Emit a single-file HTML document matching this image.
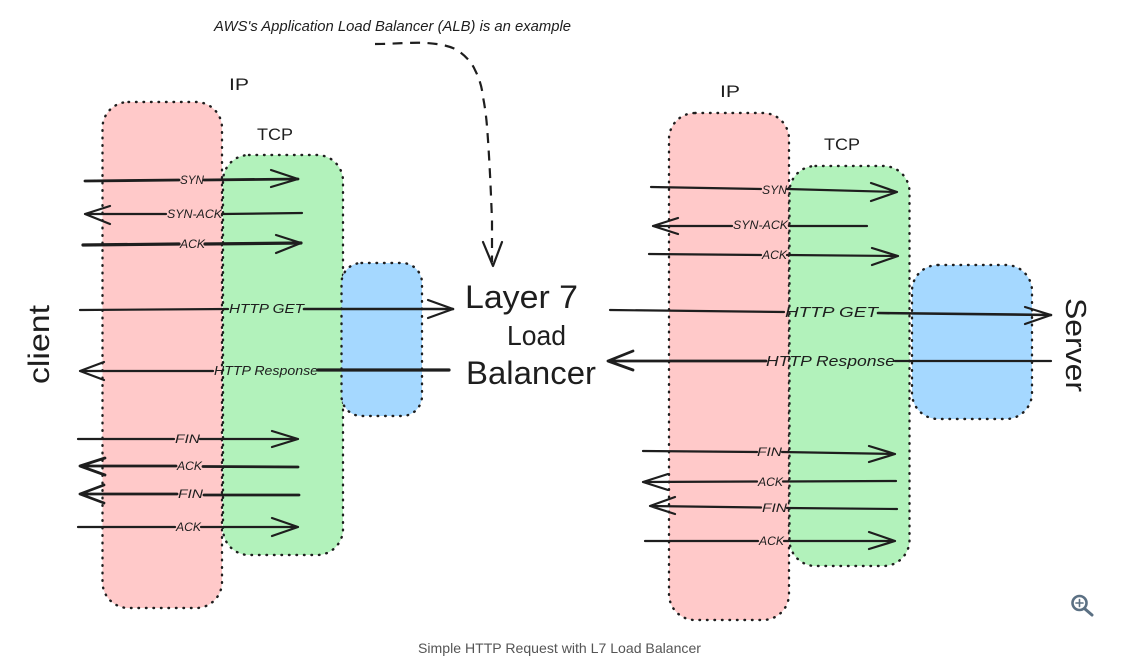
<!DOCTYPE html>
<html><head><meta charset="utf-8"><style>
html,body{margin:0;padding:0;background:#fff;width:1129px;height:665px;overflow:hidden}
svg{display:block}
.s{font:italic 12px "Liberation Sans",sans-serif;fill:#1e1e1e}
.m{font:17px "Liberation Sans",sans-serif;fill:#1e1e1e}
.l{font:32px "Liberation Sans",sans-serif;fill:#1e1e1e}
.b{stroke:#1e1e1e;stroke-width:2.4;stroke-dasharray:.6 6.9;stroke-linecap:round}
.a path{fill:none;stroke:#1e1e1e;stroke-width:2.2;stroke-linecap:round;stroke-linejoin:round}
</style></head><body>
<svg width="1129" height="665" viewBox="0 0 1129 665" xmlns="http://www.w3.org/2000/svg">
<rect class="b" x="102.500" y="102" width="119.500" height="506" rx="26" fill="#ffc9c9"/>
<rect class="b" x="223" y="155" width="120" height="400" rx="26" fill="#b2f2bb"/>
<rect class="b" x="341.500" y="263" width="80.500" height="153" rx="20" fill="#a5d8ff"/>
<rect class="b" x="669" y="113" width="120" height="507" rx="26" fill="#ffc9c9"/>
<rect class="b" x="789.500" y="166" width="120" height="400" rx="26" fill="#b2f2bb"/>
<rect class="b" x="912" y="265" width="120" height="154" rx="26" fill="#a5d8ff"/>

<g class="a">
<path style="stroke-width:2.8" d="M85 181L179 180M204 180L298 179"/><path d="M271 170L298 179L271 187"/>
<path d="M302 213L222 214M166 214L85 214M110 206L85 214L110 224"/>
<path style="stroke-width:3.2" d="M83 245L179 244M205 244L301 243"/><path d="M276 235L301 243L276 253"/>
<path d="M80 310L228 309"/><path style="stroke-width:2.6" d="M304 309L453 309"/><path d="M428 300L453 309L428 318"/>
<path style="stroke-width:3.2" d="M449 370L318 370"/><path d="M213 371L80 371M104 362L80 371L104 380"/>
<path d="M78 439L174 439M200 439L298 439M272 431L298 439L272 447"/>
<path style="stroke-width:2.8" d="M298 467L203 466.500M176 466L80 466M105 458L80 466L105 475"/>
<path style="stroke-width:2.8" d="M299 495L204 495M177 494L80 494M104 485L80 494L104 503"/>
<path d="M78 527L175 527M201 527L298 527M272 518L298 527L272 536"/>

<path d="M651 187L761 189M787 189L897 192M871 183L897 192L871 201"/>
<path d="M867 226L789 226M732 226L653 226M678 218L653 226L678 234"/>
<path d="M649 254L761 255M787 255L898 256M872 248L898 256L872 265"/>
<path d="M610 310L784 312"/><path style="stroke-width:2.6" d="M878 313L1051 315"/><path d="M1025 307L1051 315L1025 324"/>
<path d="M1051 361L895 361"/><path style="stroke-width:2.8" d="M766 361L608 361M633 351L608 361L633 370"/>
<path d="M643 451L757 452M782 452L895 454M869 446L895 454L869 462"/>
<path d="M896 481L783 481.500M757 481.500L643 482M668 474L643 482L668 490"/>
<path d="M897 509L787 508M761 507.500L650 506M675 497L650 506L675 514"/>
<path d="M645 541L758 541M784 541L895 541M869 532L895 541L869 549"/>
</g>

<path d="M375 44C395 44 412 42 427 43C440 44 450 46 457 50C466 56 472 63 475 70C480 80 482 88 483 97C486 112 487 125 488 140C490 170 491 195 492 220L492 262" fill="none" stroke="#1e1e1e" stroke-width="2.2" stroke-dasharray="10 7.500"/>
<path d="M483 242L493 266L502 242" fill="none" stroke="#1e1e1e" stroke-width="2.2" stroke-linecap="round" stroke-linejoin="round"/>

<text class="m" x="214" y="31" textLength="357" lengthAdjust="spacingAndGlyphs" style="font-size:15px;font-style:italic">AWS's Application Load Balancer (ALB) is an example</text>
<text class="m" x="229" y="90" textLength="20" lengthAdjust="spacingAndGlyphs">IP</text>
<text class="m" x="257" y="140" textLength="36" lengthAdjust="spacingAndGlyphs">TCP</text>
<text class="m" x="720" y="97" textLength="20" lengthAdjust="spacingAndGlyphs">IP</text>
<text class="m" x="824" y="150" textLength="36" lengthAdjust="spacingAndGlyphs">TCP</text>

<text class="s" x="180" y="184" textLength="24" lengthAdjust="spacingAndGlyphs">SYN</text>
<text class="s" x="167" y="218" textLength="55" lengthAdjust="spacingAndGlyphs">SYN-ACK</text>
<text class="s" x="180" y="248" textLength="25" lengthAdjust="spacingAndGlyphs">ACK</text>
<text class="s" x="229" y="313" textLength="75" lengthAdjust="spacingAndGlyphs" style="font-size:13px">HTTP GET</text>
<text class="s" x="214" y="375" textLength="104" lengthAdjust="spacingAndGlyphs" style="font-size:13px">HTTP Response</text>
<text class="s" x="175" y="443" textLength="25" lengthAdjust="spacingAndGlyphs">FIN</text>
<text class="s" x="177" y="470" textLength="25" lengthAdjust="spacingAndGlyphs">ACK</text>
<text class="s" x="178" y="498" textLength="25" lengthAdjust="spacingAndGlyphs">FIN</text>
<text class="s" x="176" y="531" textLength="25" lengthAdjust="spacingAndGlyphs">ACK</text>

<text class="s" x="762" y="194" textLength="25" lengthAdjust="spacingAndGlyphs">SYN</text>
<text class="s" x="733" y="229" textLength="55" lengthAdjust="spacingAndGlyphs">SYN-ACK</text>
<text class="s" x="762" y="259" textLength="25" lengthAdjust="spacingAndGlyphs">ACK</text>
<text class="s" x="785" y="317" textLength="93" lengthAdjust="spacingAndGlyphs" style="font-size:15px">HTTP GET</text>
<text class="s" x="766" y="366" textLength="129" lengthAdjust="spacingAndGlyphs" style="font-size:15px">HTTP Response</text>
<text class="s" x="757" y="456" textLength="25" lengthAdjust="spacingAndGlyphs">FIN</text>
<text class="s" x="758" y="486" textLength="25" lengthAdjust="spacingAndGlyphs">ACK</text>
<text class="s" x="762" y="512" textLength="25" lengthAdjust="spacingAndGlyphs">FIN</text>
<text class="s" x="759" y="545" textLength="25" lengthAdjust="spacingAndGlyphs">ACK</text>

<text class="l" x="465" y="308" textLength="113" lengthAdjust="spacingAndGlyphs">Layer 7</text>
<text class="l" x="507" y="345" textLength="59" lengthAdjust="spacingAndGlyphs" style="font-size:28px">Load</text>
<text class="l" x="466" y="384" textLength="130" lengthAdjust="spacingAndGlyphs">Balancer</text>

<text class="l" transform="translate(49 384) rotate(-90)" textLength="79" lengthAdjust="spacingAndGlyphs" style="font-size:30px">client</text>
<text class="l" transform="translate(1066 298) rotate(90)" textLength="94" lengthAdjust="spacingAndGlyphs" style="font-size:29px">Server</text>

<text x="418" y="653" textLength="283" lengthAdjust="spacingAndGlyphs" style="font:14px 'Liberation Sans',sans-serif;fill:#555">Simple HTTP Request with L7 Load Balancer</text>

<g fill="none" stroke="#5b7083" stroke-linecap="round">
<circle cx="1079.500" cy="603" r="7" stroke-width="2.600"/>
<path d="M1085 609L1092 615" stroke-width="3"/>
<path d="M1076 603H1083M1079.500 599.500V606.500" stroke-width="1.600"/>
</g>
</svg>
</body></html>
